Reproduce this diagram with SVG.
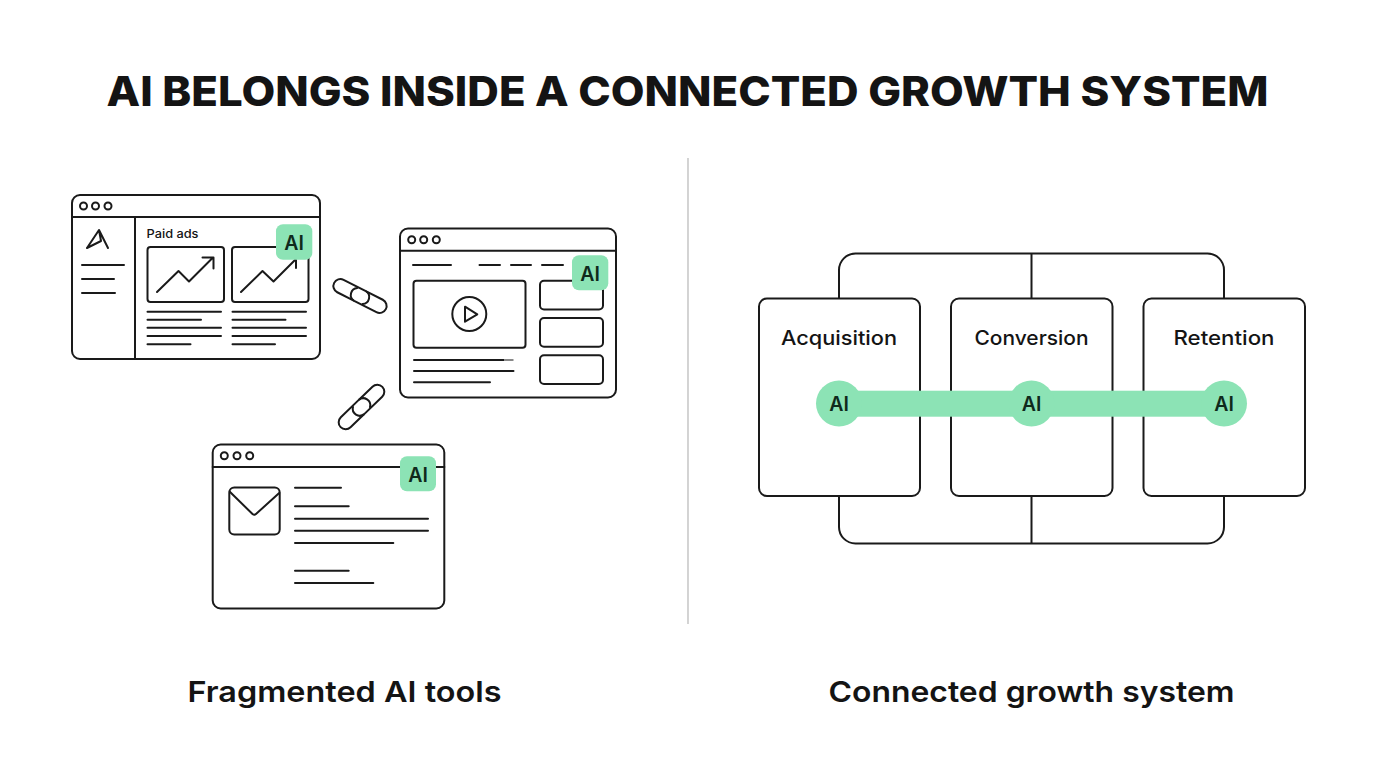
<svg xmlns="http://www.w3.org/2000/svg" width="1376" height="768" viewBox="0 0 1376 768">
<style>
.s{fill:none;stroke:#1a1a1a;stroke-width:2;stroke-linecap:round;stroke-linejoin:round}
.w{fill:#fff;stroke:#1a1a1a;stroke-width:2}
.g{fill:#8ce3b5}
text{font-family:Inter,"Open Sans","Liberation Sans",sans-serif;fill:#141414;text-anchor:middle}
.ai{font-size:19.5px;font-weight:600;fill:#0f2a1c}
.lab{font-size:20px;font-weight:500}
.cap{font-size:29px;font-weight:600}
</style>
<rect width="1376" height="768" fill="#fff"/>
<text id="title" x="687.5" y="106" font-size="41" font-weight="800" textLength="1162" lengthAdjust="spacingAndGlyphs">AI BELONGS INSIDE A CONNECTED GROWTH SYSTEM</text>
<line id="divider" x1="688" y1="158" x2="688" y2="624" stroke="#c9c9c9" stroke-width="1.6"/>

<g id="window-ads">
<rect class="w" x="72" y="195" width="248" height="164" rx="8"/>
<path class="s" d="M72 217H320M135 217V359"/>
<circle class="s" cx="83.500" cy="206" r="3.500"/><circle class="s" cx="95.500" cy="206" r="3.500"/><circle class="s" cx="108" cy="206" r="3.500"/>
<path class="s" d="M87 248L99 230L108 248M99 230L101 241L87 248"/>
<path class="s" d="M82 265H124M82 279H114M82 293H115"/>
<text x="172.500" y="238" font-size="12" font-weight="500" textLength="52" lengthAdjust="spacingAndGlyphs">Paid ads</text>
<rect class="s" x="147.500" y="247" width="76.500" height="55" rx="3"/>
<rect class="s" x="232" y="247" width="76.500" height="55" rx="3"/>
<path class="s" d="M157 292L178.500 271L189 281.500L212.500 258M202.500 257.500H213.500V268.500"/>
<path class="s" d="M241 292L262.500 271L273.500 281.500L295 260M296 260V268"/>
<path class="s" d="M147.500 311.700H221M147.500 319.700H201M147.500 327.700H221M147.500 336H221M147.500 344.300H190.500"/>
<path class="s" d="M232.500 311.700H306M232.500 319.700H285.500M232.500 327.700H306M232.500 336H306M232.500 344.300H275"/>
<rect class="g" x="276" y="224.300" width="36.300" height="35.500" rx="7"/>
<text class="ai" x="294" y="249.500">AI</text>
</g>

<g id="window-video">
<rect class="w" x="400" y="228.500" width="216" height="169" rx="8"/>
<path class="s" d="M400 250.700H616"/>
<circle class="s" cx="411.700" cy="239.700" r="3.500"/><circle class="s" cx="423.700" cy="239.700" r="3.500"/><circle class="s" cx="436.300" cy="239.700" r="3.500"/>
<path class="s" d="M413 265H451M479.500 265H500M511 265H531M542 265H563"/>
<rect class="s" x="413.500" y="280.700" width="112" height="67" rx="3"/>
<circle class="s" cx="469.300" cy="314" r="17"/>
<path class="s" d="M465 306.700L477.300 314.300L465 321.700Z"/>
<rect class="s" x="540" y="280.700" width="63" height="28.700" rx="4"/>
<rect class="s" x="540" y="318" width="63" height="28.700" rx="4"/>
<rect class="s" x="540" y="355.300" width="63" height="28.700" rx="4"/>
<path class="s" d="M414 360H504M414 371H513.500M414 382.300H490"/>
<path d="M504 360H513.500" stroke="#888" stroke-width="2" fill="none"/>
<rect class="g" x="572" y="255.300" width="36.300" height="35" rx="7"/>
<text class="ai" x="590" y="280.500">AI</text>
</g>

<g id="window-email">
<rect class="w" x="212.700" y="444.500" width="231.600" height="164" rx="8"/>
<path class="s" d="M212.700 467H444.300"/>
<circle class="s" cx="224.300" cy="455.700" r="3.500"/><circle class="s" cx="237" cy="455.700" r="3.500"/><circle class="s" cx="249.700" cy="455.700" r="3.500"/>
<rect class="s" x="229.300" y="487.500" width="50.400" height="47" rx="5"/>
<path class="s" d="M229.800 491.700L252.500 514Q254.300 515.500 256 514L279.200 493"/>
<path class="s" d="M295 487.700H341M295 506.300H348.700M295 518.700H428M295 530.700H428M295 543H393.300M295 570.700H348.700M295 583H373.300"/>
<rect class="g" x="400" y="456.300" width="36" height="35" rx="7"/>
<text class="ai" x="418" y="481.500">AI</text>
</g>

<g id="connectors">
<g id="chain-1" transform="translate(360 296) rotate(27)">
<path class="s" d="M-4 7H-22A7 7 0 0 1 -22 -7H3A7 7 0 0 1 6 6"/>
<path class="s" d="M4 -7H22A7 7 0 0 1 22 7H-3A7 7 0 0 1 -6 -6"/>
</g>
<g id="chain-2" transform="translate(361.500 407) rotate(-44)">
<path class="s" d="M-4 7H-22A7 7 0 0 1 -22 -7H3A7 7 0 0 1 6 6"/>
<path class="s" d="M4 -7H22A7 7 0 0 1 22 7H-3A7 7 0 0 1 -6 -6"/>
</g>
<path class="s" d="M839 298V270A16.500 16.500 0 0 1 855.500 253.500H1207.500A16.500 16.500 0 0 1 1224 270V298M1031.500 253.500V298"/>
<path class="s" d="M839 496V527A16.500 16.500 0 0 0 855.500 543.500H1207.500A16.500 16.500 0 0 0 1224 527V496M1031.500 496V543.500"/>
</g>

<g id="node-acquisition">
<rect class="w" x="759" y="298.500" width="161" height="197.500" rx="8"/>
<text class="lab" x="839" y="345" textLength="116" lengthAdjust="spacingAndGlyphs">Acquisition</text>
</g>
<g id="node-conversion">
<rect class="w" x="951" y="298.500" width="161.500" height="197.500" rx="8"/>
<text class="lab" x="1031.500" y="345" textLength="114" lengthAdjust="spacingAndGlyphs">Conversion</text>
</g>
<g id="node-retention">
<rect class="w" x="1143.500" y="298.500" width="161.500" height="197.500" rx="8"/>
<text class="lab" x="1224" y="345" textLength="101" lengthAdjust="spacingAndGlyphs">Retention</text>
</g>

<g id="ai-bar">
<rect class="g" x="839" y="390.700" width="385" height="26"/>
<circle class="g" cx="839" cy="403.500" r="23"/>
<circle class="g" cx="1031.500" cy="403.500" r="23"/>
<circle class="g" cx="1224" cy="403.500" r="23"/>
<text class="ai" x="839" y="411">AI</text>
<text class="ai" x="1031.500" y="411">AI</text>
<text class="ai" x="1224" y="411">AI</text>
</g>

<text id="caption-left" class="cap" x="344.500" y="702" textLength="314" lengthAdjust="spacingAndGlyphs">Fragmented AI tools</text>
<text id="caption-right" class="cap" x="1031.500" y="702" textLength="406" lengthAdjust="spacingAndGlyphs">Connected growth system</text>
</svg>
